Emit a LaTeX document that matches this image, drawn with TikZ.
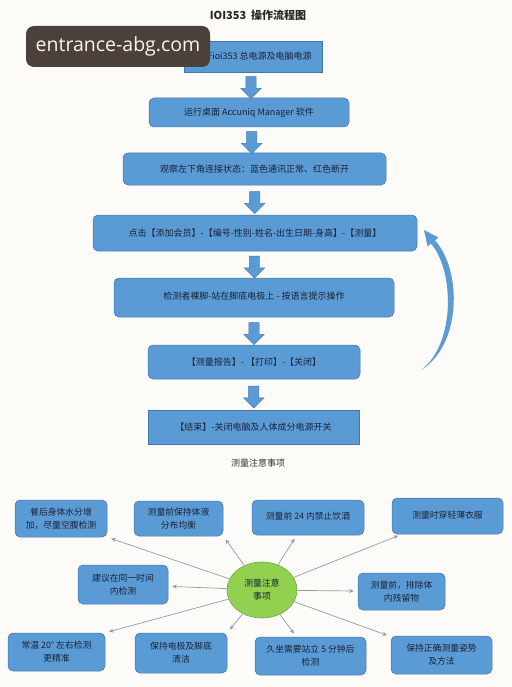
\documentclass[tikz,border=0pt]{standalone}
\usepackage{fontspec}
\setmainfont{Noto Sans CJK SC}
\newfontfamily\wmfont{Open Sans}
\usetikzlibrary{shapes.arrows,shapes.geometric,arrows.meta,calc}
\definecolor{paper}{RGB}{253,251,248}
\definecolor{boxblue}{RGB}{91,155,213}
\definecolor{boxline}{RGB}{67,118,170}
\definecolor{boxtext}{RGB}{26,34,52}
\definecolor{notegreen}{RGB}{146,208,80}
\definecolor{noteline}{RGB}{112,168,64}
\definecolor{linkgray}{RGB}{138,155,176}
\definecolor{wmbrown}{RGB}{75,64,58}
\begin{document}
\begin{tikzpicture}[x=1pt, y=-1pt,
    flowsq/.style={rectangle, fill=boxblue, draw=boxline, line width=0.5pt,
      text=boxtext, font=\fontsize{9}{11}\selectfont, align=center},
    flowbox/.style={flowsq, rounded corners=5pt},
    notebox/.style={flowbox, font=\fontsize{8.8}{13}\selectfont},
    downarr/.style={single arrow, shape border rotate=270, fill=boxblue,
      draw=boxline, line width=0.4pt, inner sep=5pt, minimum height=22pt,
      single arrow head extend=5pt},
    note/.style={linkgray, line width=0.7pt, shorten >=4pt,
      -{Stealth[length=4.5pt,width=4pt]}}]
  \fill [paper] (0,0) rectangle (511,687) ;
  \useasboundingbox (0,0) rectangle (511,687) ;
  \node [font=\fontsize{11}{13}\selectfont\bfseries, text=black!85] (title)
    at (258,15) {IOI353\ \ 操作流程图} ;
  % flow chart
  \node [flowsq, minimum width=138, minimum height=31] (s1) at (253,56.5)
    {打开ioi353 总电源及电脑电源} ;
  \node [flowbox, minimum width=200, minimum height=29] (s2) at (249,112.5)
    {运行桌面 Accuniq Manager 软件} ;
  \node [flowbox, minimum width=263, minimum height=32] (s3) at (254.5,169)
    {观察左下角连接状态：蓝色通讯正常、红色断开} ;
  \node [flowbox, minimum width=324, minimum height=36] (s4) at (255,233)
    {点击【添加会员】-【编号-性别-姓名-出生日期-身高】-【测量】} ;
  \node [flowbox, minimum width=280, minimum height=39] (s5) at (254,297.5)
    {\raisebox{4pt}{检测者裸脚-站在脚底电极上 - 按语言提示操作}} ;
  \node [flowbox, minimum width=212, minimum height=34] (s6) at (254,362)
    {【测量报告】- 【打印】-【关闭】} ;
  \node [flowsq, minimum width=211, minimum height=34] (s7) at (253.5,427)
    {【结束】-关闭电脑及人体成分电源开关} ;
  \foreach \a/\b in {s1/s2,s2/s3,s3/s4,s4/s5,s5/s6,s6/s7} {
    \node [downarr] (arr-\a) at ($(\a.south)!0.5!(\b.north)$) {} ;
  }
  % loop back arrow
  \fill [boxblue] (421,370) .. controls (462,345) and (462,270) .. (435,240.4)
    -- (438.4,237.5) -- (424,230) -- (427.6,246.5) -- (431,243.6)
    .. controls (455,272) and (455,345) .. (421,370) -- cycle ;
  \node [font=\fontsize{9}{11}\selectfont, text=black!80] (notes) at (258,463)
    {测量注意事项} ;
  % notes
  \node [ellipse, fill=notegreen, draw=noteline, line width=0.6pt,
    minimum width=70, minimum height=56, inner sep=0pt, align=center,
    text=boxtext, font=\fontsize{8.8}{13}\selectfont] (c) at (262,590)
    {测量注意\\事项} ;
  \node [notebox, minimum width=92, minimum height=37] (b1) at (61,518.5)
    {餐后身体水分增\\加，尽量空腹检测} ;
  \node [notebox, minimum width=89, minimum height=35] (b2) at (178.5,518.5)
    {测量前保持体液\\分布均衡} ;
  \node [notebox, minimum width=112, minimum height=35] (b3) at (308,517.5)
    {\raisebox{4pt}{测量前 24 内禁止饮酒}} ;
  \node [notebox, minimum width=111, minimum height=36] (b4) at (447.5,516)
    {\raisebox{3pt}{测量时穿轻薄衣服}} ;
  \node [notebox, minimum width=90, minimum height=39] (b5) at (123,584.5)
    {建议在同一时间\\内检测} ;
  \node [notebox, minimum width=87, minimum height=37] (b6) at (401.5,591.5)
    {测量前，排除体\\内残留物} ;
  \node [notebox, minimum width=97, minimum height=38] (b7) at (56.5,652)
    {常温 20° 左右检测\\更精准} ;
  \node [notebox, minimum width=92, minimum height=40] (b8) at (181,653)
    {保持电极及脚底\\清洁} ;
  \node [notebox, minimum width=111, minimum height=38] (b9) at (310.5,656)
    {久坐需要站立 5 分钟后\\检测} ;
  \node [notebox, minimum width=101, minimum height=38] (b10) at (441.5,655)
    {保持正确测量姿势\\及方法} ;
  \foreach \t in {b3,b4,b5,b6,b9,b10} { \draw [note] (c) -- (\t) ; }
  \draw [note] (c) -- (b1.south east) ;
  \draw [note] (c) -- (b2.south east) ;
  \draw [note] (c) -- (b7.north east) ;
  \draw [note] (c) -- (b8.north east) ;
  % watermark
  \node [fill=wmbrown, rounded corners=8pt, minimum width=184, minimum height=41,
    text=white!92!brown, font=\wmfont\fontsize{19.5}{22}\selectfont] (wm)
    at (118,46.5) {entrance-abg.com} ;
\end{tikzpicture}
\end{document}
